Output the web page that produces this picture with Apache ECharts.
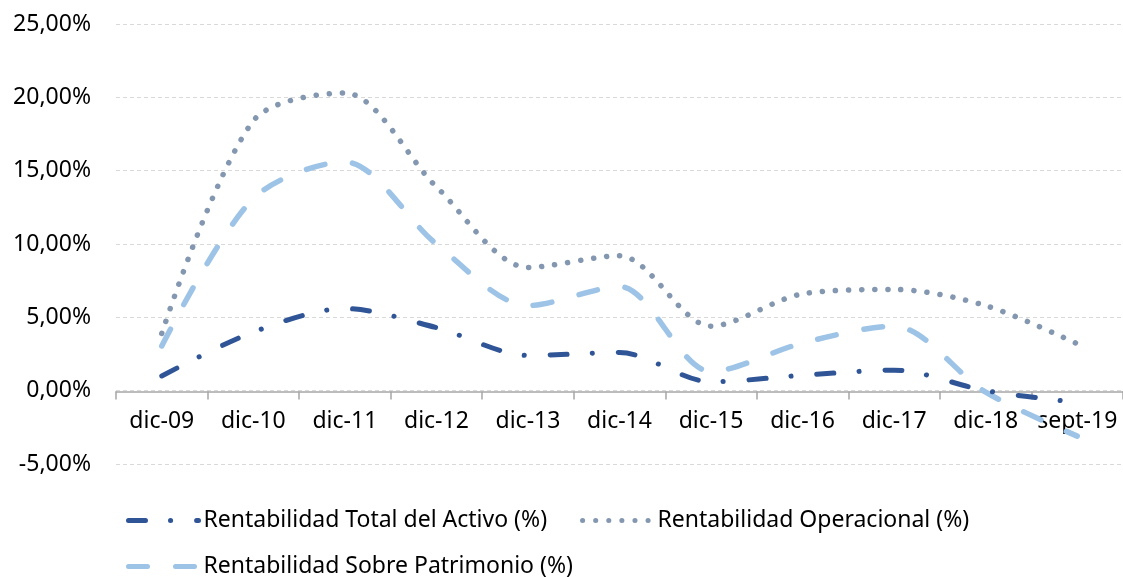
<!DOCTYPE html>
<html>
<head>
<meta charset="utf-8">
<script src="https://cdn.jsdelivr.net/npm/echarts@6/dist/echarts.min.js"></script>
</head>
<body style="margin:0;background:#fff;">
<div id="main" style="width: 1123px;height:577px;"></div>
<script type="text/javascript">
    // datos del gráfico
    var categorias = ['dic-09', 'dic-10', 'dic-11', 'dic-12', 'dic-13', 'dic-14', 'dic-15', 'dic-16', 'dic-17', 'dic-18', 'sept-19'];
    var activo = [1.0, 4.0, 5.6, 4.3, 2.4, 2.6, 0.6, 1.05, 1.4, 0.0, -0.8];
    var operacional = [3.9, 18.4, 20.3, 13.9, 8.4, 9.2, 4.4, 6.6, 6.9, 5.8, 3.2];
    var patrimonio = [3.05, 13.1, 15.6, 10.0, 5.8, 7.1, 1.3, 3.25, 4.4, -0.1, -3.1];

    var nombres = ['Rentabilidad Total del Activo (%)', 'Rentabilidad Operacional (%)', 'Rentabilidad Sobre Patrimonio (%)'];

    var fuente = 'Noto Sans';
    var myChart = echarts.init(document.getElementById('main'));

    var legendaBase = {
        left: 121,
        orient: 'horizontal',
        itemWidth: 70,
        itemHeight: 14,
        itemGap: 33,
        itemStyle: {opacity: 0},
        lineStyle: {width: 5, cap: 'round'},
        textStyle: {fontFamily: fuente, fontSize: 23, color: '#000'}
    };

    var option = {
        animation: false,
        grid: {left: 116, right: 0, top: 24, bottom: 113},
        legend: [
            Object.assign({}, legendaBase, {top: 504, data: [nombres[0], nombres[1]]}),
            Object.assign({}, legendaBase, {top: 550, data: [nombres[2]]})
        ],
        xAxis: {
            type: 'category',
            data: categorias,
            boundaryGap: true,
            offset: -72.6,
            axisLine: {onZero: false, lineStyle: {color: '#A6A6A6', width: 1.5}},
            axisTick: {show: true, length: 8, interval: 0, lineStyle: {color: '#A6A6A6', width: 1.5}},
            axisLabel: {fontFamily: fuente, fontSize: 23, color: '#000', margin: 19, interval: 0}
        },
        yAxis: {
            type: 'value',
            min: -5,
            max: 25,
            interval: 5,
            axisLine: {show: false},
            axisTick: {show: false},
            axisLabel: {
                fontFamily: fuente, fontSize: 23, color: '#000', margin: 25,
                formatter: function (v) { return v.toFixed(2).replace('.', ',') + '%'; }
            },
            splitLine: {lineStyle: {color: '#D9D9D9', type: [4, 3]}}
        },
        series: [
            {
                name: nombres[0],
                type: 'line',
                data: activo,
                smooth: 0.3,
                symbol: 'none',
                z: 3,
                lineStyle: {color: '#2F5597', width: 5, type: [17, 25, 0.1, 26], cap: 'round'},
                itemStyle: {color: '#2F5597'}
            },
            {
                name: nombres[1],
                type: 'line',
                data: operacional,
                smooth: 0.3,
                symbol: 'none',
                z: 2,
                lineStyle: {color: '#8497B0', width: 5.5, type: [0.1, 13], cap: 'round'},
                itemStyle: {color: '#8497B0'}
            },
            {
                name: nombres[2],
                type: 'line',
                data: patrimonio,
                smooth: 0.3,
                symbol: 'none',
                z: 2,
                lineStyle: {color: '#9DC3E6', width: 5.5, type: [19, 28], cap: 'round'},
                itemStyle: {color: '#9DC3E6'}
            }
        ]
    };
    myChart.setOption(option);
</script>
</body>
</html>
